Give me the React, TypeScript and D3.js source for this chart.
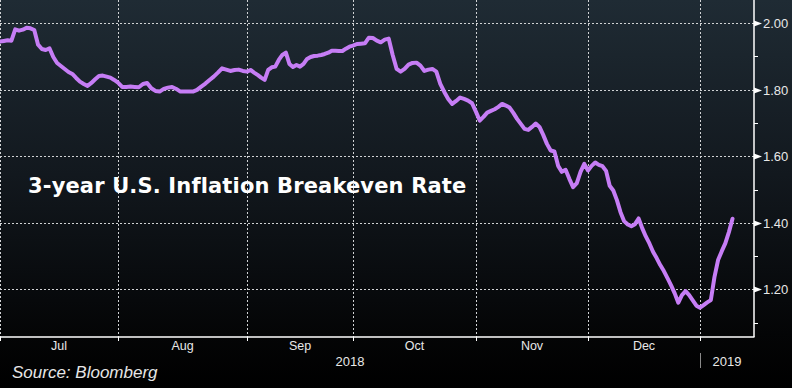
import React from "react";
import * as d3 from "d3";

// ---- data ----
const seriesStart = "2018-07-01"; // one value per calendar day
const breakeven = [
  // Jul
  1.944, 1.946, 1.948, 1.947, 1.981, 1.977, 1.98, 1.986, 1.984, 1.979,
  1.935, 1.922, 1.919, 1.924, 1.898, 1.88, 1.871, 1.862, 1.853, 1.847,
  1.835, 1.824, 1.817, 1.811, 1.82, 1.831, 1.841, 1.842, 1.839, 1.836, 1.829,
  // Aug
  1.821, 1.808, 1.808, 1.809, 1.808, 1.807, 1.817, 1.82, 1.804, 1.796,
  1.794, 1.802, 1.806, 1.808, 1.802, 1.794, 1.794, 1.794, 1.794, 1.799,
  1.809, 1.818, 1.829, 1.839, 1.851, 1.864, 1.86, 1.856, 1.859, 1.86, 1.856,
  // Sep
  1.854, 1.859, 1.851, 1.844, 1.836, 1.829, 1.859, 1.867, 1.869, 1.889,
  1.904, 1.911, 1.877, 1.868, 1.874, 1.869, 1.877, 1.892, 1.898, 1.901,
  1.902, 1.904, 1.907, 1.911, 1.917, 1.917, 1.916, 1.916, 1.923, 1.929,
  // Oct
  1.932, 1.937, 1.938, 1.939, 1.956, 1.955, 1.947, 1.942, 1.95, 1.953,
  1.904, 1.862, 1.854, 1.862, 1.875, 1.88, 1.881, 1.872, 1.856, 1.86,
  1.862, 1.854, 1.817, 1.793, 1.772, 1.757, 1.766, 1.776, 1.772, 1.767, 1.759,
  // Nov
  1.733, 1.707, 1.718, 1.731, 1.736, 1.741, 1.748, 1.757, 1.752, 1.746,
  1.73, 1.712, 1.697, 1.682, 1.679, 1.688, 1.698, 1.688, 1.664, 1.637,
  1.617, 1.614, 1.571, 1.553, 1.559, 1.532, 1.507, 1.519, 1.553, 1.577,
  // Dec
  1.557, 1.571, 1.581, 1.574, 1.57, 1.556, 1.511, 1.497, 1.468, 1.432,
  1.405, 1.395, 1.39, 1.396, 1.413, 1.384, 1.359, 1.338, 1.313, 1.294,
  1.273, 1.255, 1.234, 1.212, 1.188, 1.16, 1.183, 1.195, 1.183, 1.167, 1.151,
  // Jan
  1.145, 1.153, 1.161, 1.168, 1.237, 1.288, 1.314, 1.338, 1.372, 1.412,
];

const monthStarts = [
  "2018-07-01", "2018-08-01", "2018-09-01", "2018-10-01",
  "2018-11-01", "2018-12-01", "2019-01-01", "2019-02-01",
];
const monthLabels = ["Jul", "Aug", "Sep", "Oct", "Nov", "Dec"];
const yearLabels = ["2018", "2019"];
const yMajorTicks = [1.2, 1.4, 1.6, 1.8, 2.0];
const yMinorTicks = [1.1, 1.3, 1.5, 1.7, 1.9];
const titleText = "3-year U.S. Inflation Breakeven Rate";
const sourceText = "Source: Bloomberg";

export default function App() {
  const W = 792;
  const H = 388;
  const plotRight = 754;
  const plotBottom = 337;

  const parse = d3.timeParse("%Y-%m-%d");
  const start = parse(seriesStart) as Date;
  const bounds = monthStarts.map((s) => parse(s) as Date);

  // trading-day spaced months (Bloomberg axis)
  const x = d3
    .scaleTime()
    .domain(bounds)
    .range([0, 118, 247, 353, 476, 588, 700, 812]);
  const y = d3.scaleLinear().domain([1.2, 2.0]).range([289.4, 23]);

  const points = breakeven.map((v, i) => ({
    date: d3.timeDay.offset(start, i),
    value: v,
  }));

  const line = d3
    .line<{ date: Date; value: number }>()
    .x((d) => x(d.date))
    .y((d) => y(d.value))
    .curve(d3.curveLinear);

  const gridColor = "#d0d2d4";
  const labelFont = "'Liberation Sans', Arial, sans-serif";

  const yearStartX = x(bounds[0]);
  const janX = x(bounds[6]);

  return (
    <svg
      width={W}
      height={H}
      viewBox={`0 0 ${W} ${H}`}
      style={{ position: "absolute", left: 0, top: 0, display: "block" }}
    >
      <defs>
        <linearGradient id="bg" x1="0" y1="0" x2="0" y2="1">
          <stop offset="0" stopColor="#1f2b34" />
          <stop offset="0.45" stopColor="#12181e" />
          <stop offset="0.86" stopColor="#040506" />
          <stop offset="1" stopColor="#000000" />
        </linearGradient>
        <clipPath id="plotClip">
          <rect x={0} y={0} width={plotRight} height={plotBottom} />
        </clipPath>
      </defs>
      <rect x={0} y={0} width={W} height={H} fill="url(#bg)" />

      {/* horizontal grid */}
      {yMajorTicks.map((t) => (
        <line
          key={"hg" + t}
          x1={0}
          x2={plotRight}
          y1={Math.round(y(t)) + 0.5}
          y2={Math.round(y(t)) + 0.5}
          stroke={gridColor}
          strokeWidth={1}
          strokeDasharray="2,2"
        />
      ))}
      {/* vertical grid */}
      {bounds.slice(0, 7).map((d, i) => (
        <line
          key={"vg" + i}
          x1={Math.round(x(d)) + 0.5}
          x2={Math.round(x(d)) + 0.5}
          y1={0}
          y2={plotBottom}
          stroke={gridColor}
          strokeWidth={1}
          strokeDasharray="2,2"
        />
      ))}

      {/* series */}
      <path
        d={line(points) || ""}
        fill="none"
        stroke="#c67df5"
        strokeWidth={4}
        strokeLinejoin="round"
        strokeLinecap="round"
        clipPath="url(#plotClip)"
      />

      {/* axes */}
      <line x1={0} x2={plotRight + 0.5} y1={plotBottom} y2={plotBottom} stroke="#ffffff" strokeWidth={1.5} />
      <line x1={plotRight} x2={plotRight} y1={0} y2={plotBottom} stroke="#ffffff" strokeWidth={1.5} />

      {/* bottom ticks */}
      {bounds.slice(0, 7).map((d, i) => (
        <line
          key={"bt" + i}
          x1={Math.round(x(d)) + 0.5}
          x2={Math.round(x(d)) + 0.5}
          y1={plotBottom}
          y2={plotBottom + 4}
          stroke="#ffffff"
          strokeWidth={1}
        />
      ))}

      {/* month labels */}
      {monthLabels.map((m, i) => (
        <text
          key={m}
          x={(x(bounds[i]) + x(bounds[i + 1])) / 2}
          y={350}
          fill="#e8e8e8"
          fontFamily={labelFont}
          fontSize={12.5}
          textAnchor="middle"
        >
          {m}
        </text>
      ))}

      {/* year labels */}
      <text
        x={(yearStartX + janX) / 2}
        y={366}
        fill="#e8e8e8"
        fontFamily={labelFont}
        fontSize={13}
        textAnchor="middle"
      >
        {yearLabels[0]}
      </text>
      <line x1={janX + 0.5} x2={janX + 0.5} y1={353} y2={368} stroke="#8a8a8a" strokeWidth={1} />
      <text
        x={(janX + plotRight) / 2}
        y={366}
        fill="#e8e8e8"
        fontFamily={labelFont}
        fontSize={13}
        textAnchor="middle"
      >
        {yearLabels[1]}
      </text>

      {/* right axis ticks */}
      {yMinorTicks.map((t) => (
        <line
          key={"mt" + t}
          x1={plotRight}
          x2={plotRight + 4}
          y1={Math.round(y(t)) + 0.5}
          y2={Math.round(y(t)) + 0.5}
          stroke="#ffffff"
          strokeWidth={1}
        />
      ))}
      {yMajorTicks.map((t) => {
        const yy = Math.round(y(t)) + 0.5;
        return (
          <g key={"mj" + t}>
            <path
              d={`M${plotRight},${yy - 3} L${plotRight + 8},${yy} L${plotRight},${yy + 3} Z`}
              fill="#ffffff"
            />
            <text
              x={plotRight + 9}
              y={yy}
              dy="0.36em"
              fill="#e8e8e8"
              fontFamily={labelFont}
              fontSize={13}
            >
              {d3.format(".2f")(t)}
            </text>
          </g>
        );
      })}

      {/* title */}
      <text
        x={28}
        y={193}
        fill="#ffffff"
        fontFamily="'DejaVu Sans', Verdana, sans-serif"
        fontWeight="bold"
        fontSize={21}
        letterSpacing={0.15}
      >
        {titleText}
      </text>

      {/* source */}
      <text
        x={12}
        y={378}
        fill="#e6e6e6"
        fontFamily={labelFont}
        fontStyle="italic"
        fontSize={17}
      >
        {sourceText}
      </text>
    </svg>
  );
}
